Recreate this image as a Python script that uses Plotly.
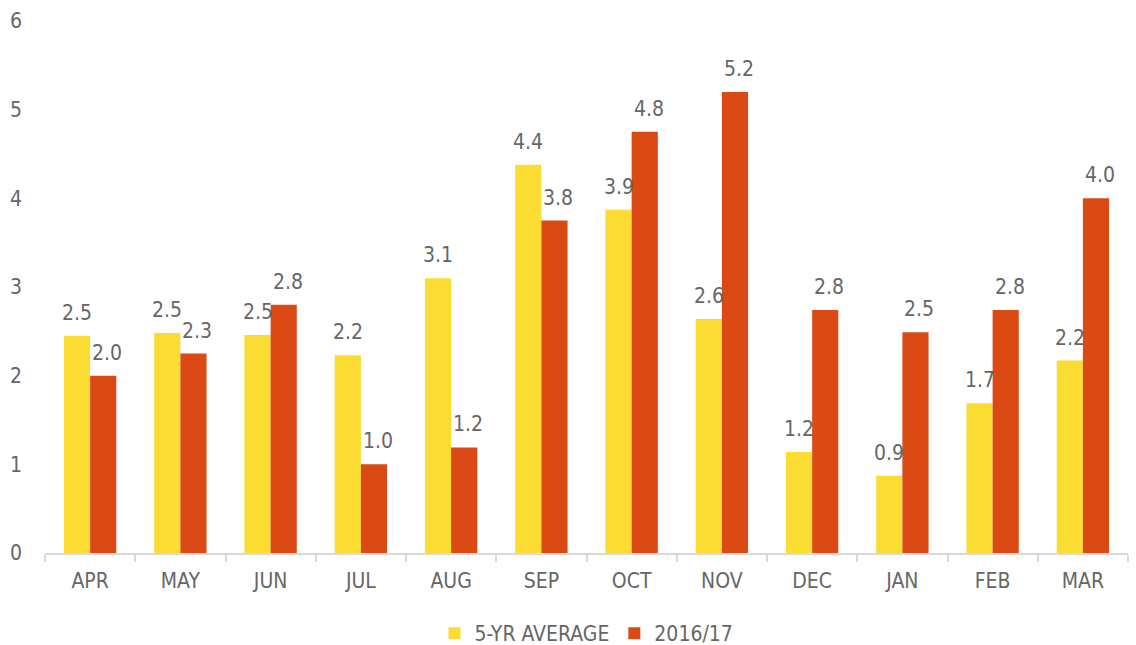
import plotly.graph_objects as go

months = ["APR", "MAY", "JUN", "JUL", "AUG", "SEP", "OCT", "NOV", "DEC", "JAN", "FEB", "MAR"]
avg_5yr = [2.45, 2.48, 2.46, 2.23, 3.10, 4.38, 3.87, 2.64, 1.14, 0.87, 1.69, 2.17]
season_1617 = [2.00, 2.25, 2.80, 1.00, 1.19, 3.75, 4.75, 5.20, 2.74, 2.49, 2.74, 4.00]
avg_labels = ["2.5", "2.5", "2.5", "2.2", "3.1", "4.4", "3.9", "2.6", "1.2", "0.9", "1.7", "2.2"]
season_labels = ["2.0", "2.3", "2.8", "1.0", "1.2", "3.8", "4.8", "5.2", "2.8", "2.5", "2.8", "4.0"]

FONT = "Noto Sans Condensed, DejaVu Sans Condensed, Roboto, sans-serif"
GREY = "#666666"
fnt = dict(family=FONT, size=21, color=GREY, weight=300)

fig = go.Figure()
fig.add_trace(go.Bar(x=months, y=avg_5yr, name="5-YR AVERAGE",
                     marker=dict(color="#FADC32", line=dict(width=0))))
fig.add_trace(go.Bar(x=months, y=season_1617, name="2016/17",
                     marker=dict(color="#DB4A14", line=dict(width=0))))

# value labels sit well above the bars, so annotations rather than bar text
for m, v, t in zip(months, avg_5yr, avg_labels):
    fig.add_annotation(x=m, y=v, text=t, showarrow=False, xshift=-13, yshift=9,
                       yanchor="bottom", font=fnt)
for m, v, t in zip(months, season_1617, season_labels):
    fig.add_annotation(x=m, y=v, text=t, showarrow=False, xshift=17, yshift=9,
                       yanchor="bottom", font=fnt)

fig.update_layout(
    width=1136, height=645,
    margin=dict(l=45, r=8, t=21, b=92, autoexpand=False),
    paper_bgcolor="white", plot_bgcolor="white",
    barmode="group", bargap=0.42, bargroupgap=0,
    font=fnt,
    legend=dict(orientation="h", x=0.5, xanchor="center", y=-0.113, yanchor="top",
                font=fnt, itemwidth=30),
    xaxis=dict(showline=True, linecolor="#d9d9d9", linewidth=2, ticks="outside",
               tickson="boundaries", ticklen=7, tickcolor="#d9d9d9", tickwidth=2,
               showgrid=False, ticklabelstandoff=8, automargin=False),
    yaxis=dict(range=[0, 6], dtick=1, showgrid=False, zeroline=False, showline=False,
               ticks="", ticklabelstandoff=22, automargin=False),
)

# drop the default page margin so the figure sits at the window's corner
fig.write_html("out.html", config={"displayModeBar": False},
               post_script="document.body.style.margin='0';")
